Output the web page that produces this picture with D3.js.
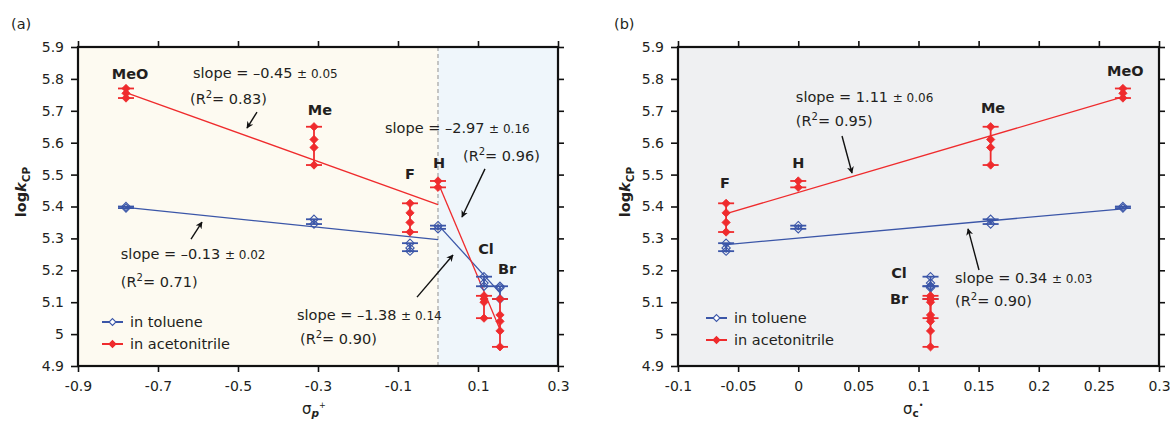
<!DOCTYPE html>
<html>
<head>
<meta charset="utf-8">
<script src="https://d3js.org/d3.v7.min.js"></script>
<style>
body { margin: 0; background: #fff; }
text { font-family: "DejaVu Sans", "Liberation Sans", Arial, sans-serif; fill: #231f20; }
</style>
</head>
<body>
<script>

// substituents, in the same order everywhere
var subs = ["MeO", "Me", "F", "H", "Cl", "Br"];
var sigmaP = [-0.78, -0.31, -0.07, 0, 0.115, 0.155];
var sigmaC = [0.27, 0.16, -0.06, 0, 0.11, 0.11];

// individual logk_CP runs
var tolVals = [[5.40, 5.395], [5.36, 5.345], [5.285, 5.27, 5.26], [5.34, 5.33],
               [5.18, 5.16, 5.15], [5.15, 5.145, 5.11]];
var acnVals = [[5.77, 5.755, 5.74], [5.65, 5.61, 5.585, 5.53], [5.41, 5.38, 5.35, 5.32], [5.48, 5.46],
               [5.12, 5.11, 5.10, 5.05], [5.11, 5.06, 5.04, 5.01, 4.96]];

// tick labels
var yTicks = [4.9, 5, 5.1, 5.2, 5.3, 5.4, 5.5, 5.6, 5.7, 5.8, 5.9];
var xTicksA = [-0.9, -0.7, -0.5, -0.3, -0.1, 0.1, 0.3];
var xTicksB = [-0.1, -0.05, 0, 0.05, 0.1, 0.15, 0.2, 0.25, 0.3];

// linear fits: slope, intercept, x range, label
var fitsA = [
  {s: "tol", slope: -0.13, icpt: 5.296, x0: -0.78, x1: 0, txt: "\u20130.13", err: "0.02", r2: "0.71"},
  {s: "acn", slope: -0.45, icpt: 5.406, x0: -0.78, x1: 0, txt: "\u20130.45", err: "0.05", r2: "0.83"},
  {s: "tol", slope: -1.38, icpt: 5.343, x0: 0.006, x1: 0.155, txt: "\u20131.38", err: "0.14", r2: "0.90"},
  {s: "acn", slope: -2.97, icpt: 5.475, x0: 0.006, x1: 0.155, txt: "\u20132.97", err: "0.16", r2: "0.96"}
];
var fitsB = [
  {s: "tol", slope: 0.34, icpt: 5.301, x0: -0.062, x1: 0.27, txt: "0.34", err: "0.03", r2: "0.90"},
  {s: "acn", slope: 1.11, icpt: 5.444, x0: -0.062, x1: 0.27, txt: "1.11", err: "0.06", r2: "0.95"}
];

var blue = "#3b56a8";
var red = "#ef2b2d";

// annotation placement (data coords): text x, y and arrow from/to
var notesA = [
  {tx: -0.793, ty: 5.235, ry: 5.148, a: [-0.6175, 5.298, -0.59, 5.351]},
  {tx: -0.6125, ty: 5.803, ry: 5.72, rx: -0.62, a: [-0.4525, 5.696, -0.4775, 5.646]},
  {tx: -0.3525, ty: 5.044, ry: 4.969, rx: -0.345, a: [-0.0525, 5.116, 0.0375, 5.248]},
  {tx: -0.1325, ty: 5.63, ry: 5.543, rx: 0.0625, a: [0.1175, 5.518, 0.06, 5.367]}
];
var notesB = [
  {tx: 0.1304, ty: 5.16, ry: 5.088, a: [0.1503, 5.201, 0.1412, 5.33]},
  {tx: -0.002, ty: 5.728, ry: 5.652, a: [0.0364, 5.621, 0.0447, 5.505]}
];
var labelPosA = [[-0.77, 5.80], [-0.295, 5.687], [-0.07, 5.486], [0.0025, 5.52], [0.12, 5.251], [0.1725, 5.188]];
var labelPosB = [[0.272, 5.809], [0.162, 5.693], [-0.061, 5.458], [0, 5.52], [0.0838, 5.176], [0.0838, 5.094]];

var svg = d3.select("body").append("svg")
    .attr("width", 1170)
    .attr("height", 426);

var defs = svg.append("defs");
defs.append("marker")
    .attr("id", "arr")
    .attr("viewBox", "0 0 10 10")
    .attr("refX", 9).attr("refY", 5)
    .attr("markerWidth", 7).attr("markerHeight", 7)
    .attr("markerUnits", "userSpaceOnUse")
    .attr("orient", "auto")
    .append("path")
    .attr("d", "M0,0 L10,5 L0,10 L3,5 Z")
    .attr("fill", "#111");

var diamond = d3.symbol().type(d3.symbolDiamond2).size(44);

var drawPanel = function(p) {
    var x = d3.scaleLinear().domain(p.xDomain).range([p.left, p.right]);
    var y = d3.scaleLinear().domain([4.9, 5.9]).range([366, 47]);
    var g = svg.append("g");

    // background
    if (p.split) {
	g.append("rect").attr("x", p.left).attr("y", 47)
	    .attr("width", x(0) - p.left).attr("height", 319).attr("fill", "#fdfaf1");
	g.append("rect").attr("x", x(0)).attr("y", 47)
	    .attr("width", p.right - x(0)).attr("height", 319).attr("fill", "#eff6fb");
	g.append("line").attr("x1", x(0)).attr("x2", x(0)).attr("y1", 47).attr("y2", 366)
	    .attr("stroke", "#a9a9a9").attr("stroke-width", 1.3).attr("stroke-dasharray", "4,3");
    } else {
	g.append("rect").attr("x", p.left).attr("y", 47)
	    .attr("width", p.right - p.left).attr("height", 319).attr("fill", "#eff0f2");
    }

    // axes
    var fmt = function(d) { return String(d); };
    var ax = [
	g.append("g").attr("transform", "translate(0,366)")
	    .call(d3.axisBottom(x).tickValues(p.xTicks).tickFormat(fmt).tickSize(6).tickPadding(9).tickSizeOuter(0)),
	g.append("g").attr("transform", "translate(0,47)")
	    .call(d3.axisTop(x).tickValues(p.xTicks).tickFormat("").tickSize(6).tickSizeOuter(0)),
	g.append("g").attr("transform", "translate(" + p.left + ",0)")
	    .call(d3.axisLeft(y).tickValues(yTicks).tickFormat(fmt).tickSize(7).tickPadding(7).tickSizeOuter(0)),
	g.append("g").attr("transform", "translate(" + p.right + ",0)")
	    .call(d3.axisRight(y).tickValues(yTicks).tickFormat("").tickSize(6).tickSizeOuter(0))
    ];
    for (var i = 0; i < ax.length; i++) {
	ax[i].select(".domain").remove();
	ax[i].selectAll(".tick line").attr("stroke", "#111").attr("stroke-width", 1.6);
	ax[i].selectAll(".tick text").attr("font-size", 14).attr("fill", "#231f20")
	    .attr("font-family", "DejaVu Sans, Liberation Sans, Arial, sans-serif");
    }
    g.append("rect").attr("x", p.left).attr("y", 47)
	.attr("width", p.right - p.left).attr("height", 319)
	.attr("fill", "none").attr("stroke", "#111").attr("stroke-width", 2.2);

    // fit lines
    var line = d3.line().x(function(d) { return x(d[0]); }).y(function(d) { return y(d[1]); });
    p.fits.forEach(function(f) {
	g.append("path")
	    .attr("d", line([[f.x0, f.icpt + f.slope * f.x0], [f.x1, f.icpt + f.slope * f.x1]]))
	    .attr("fill", "none")
	    .attr("stroke", f.s == "tol" ? blue : red)
	    .attr("stroke-width", 1.3);
    });

    // error bars and points
    var series = [{vals: tolVals, col: blue, open: true}, {vals: acnVals, col: red, open: false}];
    series.forEach(function(s) {
	for (var k = 0; k < subs.length; k++) {
	    var cx = x(p.sig[k]);
	    var lo = d3.min(s.vals[k]), hi = d3.max(s.vals[k]);
	    var eb = g.append("g").attr("stroke", s.col).attr("stroke-width", 1.8);
	    eb.append("line").attr("x1", cx).attr("x2", cx).attr("y1", y(lo)).attr("y2", y(hi));
	    eb.append("line").attr("x1", cx - 8).attr("x2", cx + 8).attr("y1", y(lo)).attr("y2", y(lo));
	    eb.append("line").attr("x1", cx - 8).attr("x2", cx + 8).attr("y1", y(hi)).attr("y2", y(hi));
	    g.selectAll(null)
		.data(s.vals[k])
		.enter()
		.append("path")
		.attr("d", diamond)
		.attr("transform", function(v) { return "translate(" + cx + "," + y(v) + ")"; })
		.attr("fill", s.open ? "none" : s.col)
		.attr("stroke", s.col)
		.attr("stroke-width", s.open ? 1.1 : 0.8);
	}
    });

    // substituent labels
    for (var k = 0; k < subs.length; k++) {
	g.append("text")
	    .attr("x", x(p.labels[k][0]))
	    .attr("y", y(p.labels[k][1]))
	    .attr("text-anchor", "middle")
	    .attr("font-size", 14.5)
	    .attr("font-weight", "bold")
	    .text(subs[k]);
    }

    // slope annotations
    p.fits.forEach(function(f, i) {
	var n = p.notes[i];
	var t = g.append("text").attr("x", x(n.tx)).attr("y", y(n.ty)).attr("font-size", 14.5);
	t.append("tspan").text("slope = " + f.txt + " ");
	t.append("tspan").attr("font-size", 12).text("\u00b1 " + f.err);
	var r = g.append("text").attr("x", x(n.rx !== undefined ? n.rx : n.tx)).attr("y", y(n.ry)).attr("font-size", 14.5);
	r.append("tspan").text("(R");
	r.append("tspan").attr("font-size", 10).attr("dy", -6).text("2");
	r.append("tspan").attr("dy", 6).text("= " + f.r2 + ")");
	g.append("line")
	    .attr("x1", x(n.a[0])).attr("y1", y(n.a[1]))
	    .attr("x2", x(n.a[2])).attr("y2", y(n.a[3]))
	    .attr("stroke", "#111").attr("stroke-width", 1.4)
	    .attr("marker-end", "url(#arr)");
    });

    // legend
    var lg = [{name: "in toluene", col: blue, open: true}, {name: "in acetonitrile", col: red, open: false}];
    lg.forEach(function(d, i) {
	var ly = p.legY + i * 22;
	g.append("line").attr("x1", p.legX).attr("x2", p.legX + 21).attr("y1", ly).attr("y2", ly)
	    .attr("stroke", d.col).attr("stroke-width", 2);
	g.append("path").attr("d", d3.symbol().type(d3.symbolDiamond2).size(30))
	    .attr("transform", "translate(" + (p.legX + 10.5) + "," + ly + ")")
	    .attr("fill", d.open ? "#fff" : d.col).attr("stroke", d.col).attr("stroke-width", 1.1);
	g.append("text").attr("x", p.legX + 28).attr("y", ly + 5).attr("font-size", 14.5).text(d.name);
    });

    // axis titles
    var yt = g.append("text")
	.attr("transform", "translate(" + p.yLabX + ",192) rotate(-90)")
	.attr("text-anchor", "middle")
	.attr("font-size", 14.5)
	.attr("font-weight", "bold");
    yt.append("tspan").text("log");
    yt.append("tspan").attr("font-style", "italic").text("k");
    yt.append("tspan").attr("font-size", 10.5).attr("dy", 4).text("CP");

    var xt = g.append("text")
	.attr("x", p.xLabX).attr("y", 414)
	.attr("font-size", 15);
    xt.append("tspan").text("\u03c3");
    xt.append("tspan").attr("font-size", 10.5).attr("font-weight", "bold")
	.attr("font-style", p.sub == "p" ? "italic" : "normal").attr("dy", 3).text(p.sub);
    xt.append("tspan").attr("font-size", 8).attr("dy", -9).text(p.sup);

    g.append("text").attr("x", p.tagX).attr("y", 29).attr("font-size", 14.5).text(p.tag);
};

drawPanel({
    left: 78, right: 558, xDomain: [-0.9, 0.3], xTicks: xTicksA, sig: sigmaP, split: true,
    fits: fitsA, notes: notesA, labels: labelPosA, legX: 102, legY: 322,
    yLabX: 26, xLabX: 302, sub: "p", sup: "+", tag: "(a)", tagX: 11
});
drawPanel({
    left: 678, right: 1159, xDomain: [-0.1, 0.3], xTicks: xTicksB, sig: sigmaC, split: false,
    fits: fitsB, notes: notesB, labels: labelPosB, legX: 706, legY: 318,
    yLabX: 630, xLabX: 903, sub: "c", sup: "\u2022", tag: "(b)", tagX: 614
});

</script>
</body>
</html>
